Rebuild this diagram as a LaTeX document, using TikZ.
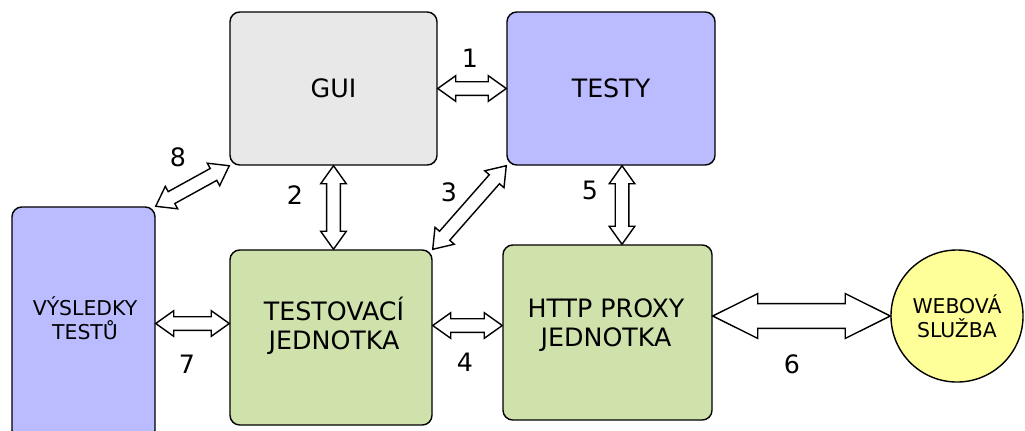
\documentclass[tikz,border=0pt]{standalone}
\usepackage{fontspec}
\setmainfont{DejaVu Sans}
\usetikzlibrary{calc}

\definecolor{guigray}{HTML}{E8E8E8}
\definecolor{testblue}{HTML}{BBBBFF}
\definecolor{unitgreen}{HTML}{CFE2AB}
\definecolor{webyellow}{HTML}{FFFF99}

\tikzset{
  box/.style={draw=black, line width=1pt, rounded corners=7pt, align=center},
  guibox/.style={box, fill=guigray, minimum width=5.175cm, minimum height=3.825cm},
  bluebox/.style={box, fill=testblue},
  greenbox/.style={box, fill=unitgreen, minimum height=4.375cm},
  bigtext/.style={font=\fontsize{18}{20.5}\selectfont, align=center},
  smalltext/.style={font=\fontsize{14.5}{17}\selectfont, align=center},
  numlabel/.style={font=\fontsize{18}{20}\selectfont},
  arrowline/.style={draw=black, fill=white, line width=1pt, line join=miter}
}

\newcommand{\blockarrow}[5]{%
  \draw[arrowline] (#1)
    -- ($(#1)!#3!(#2)!#4!90:(#2)$) -- ($(#1)!#3!(#2)!#5!90:(#2)$)
    -- ($(#2)!#3!(#1)!#5!-90:(#1)$) -- ($(#2)!#3!(#1)!#4!-90:(#1)$)
    -- (#2)
    -- ($(#2)!#3!(#1)!#4!90:(#1)$) -- ($(#2)!#3!(#1)!#5!90:(#1)$)
    -- ($(#1)!#3!(#2)!#5!-90:(#2)$) -- ($(#1)!#3!(#2)!#4!-90:(#2)$)
    -- cycle;}

\begin{document}
\begin{tikzpicture}[x=0.025cm, y=-0.025cm]

\useasboundingbox (0,0) rectangle (1025,430);

\node[guibox, bigtext] (gui) at (333.5, 88.5) {GUI};
\node[bluebox, bigtext, minimum width=5.2cm, minimum height=3.825cm] (testy) at (611, 88.5) {TESTY};
\node[bluebox, smalltext, minimum width=3.575cm, minimum height=5.825cm] (vys) at (83.5, 323.5) {};
\node[smalltext] (vystext) at (85, 318) {VÝSLEDKY\\TESTŮ};
\node[greenbox, minimum width=5.05cm] (tj) at (331, 337.5) {};
\node[bigtext] (tjtext) at (334, 325.5) {TESTOVACÍ\\JEDNOTKA};
\node[greenbox, minimum width=5.225cm] (proxy) at (607.5, 332.5) {};
\node[bigtext] (proxytext) at (606, 325.5) {HTTP PROXY\\JEDNOTKA};
\node[circle, draw=black, line width=1pt, fill=webyellow, minimum size=3.3cm, smalltext] (web) at (957, 316) {WEBOVÁ\\SLUŽBA};

\coordinate (a2) at (gui.south |- tj.north);
\coordinate (a4l) at (tjtext -| tj.east);
\coordinate (a4r) at (tjtext -| proxy.west);
\coordinate (a5t) at ($(testy.south)+(11,0)$);
\coordinate (a5b) at (a5t |- proxy.north);
\coordinate (a6) at (web.west -| proxy.east);
\coordinate (a7) at (vys.east -| tj.west);

\blockarrow{gui.east}{testy.west}{0.45cm}{0.32cm}{0.17cm}
\blockarrow{gui.south}{a2}{0.45cm}{0.32cm}{0.17cm}
\blockarrow{tj.north east}{testy.south west}{0.45cm}{0.32cm}{0.17cm}
\blockarrow{a4l}{a4r}{0.45cm}{0.32cm}{0.17cm}
\blockarrow{a5t}{a5b}{0.45cm}{0.32cm}{0.17cm}
\blockarrow{a6}{web.west}{1.125cm}{0.56cm}{0.31cm}
\blockarrow{vys.east}{a7}{0.45cm}{0.32cm}{0.17cm}
\blockarrow{vys.north east}{gui.south west}{0.45cm}{0.32cm}{0.17cm}

\node[numlabel] (n1) at (470, 58) {1};
\node[numlabel] (n2) at (295, 195) {2};
\node[numlabel] (n3) at (449, 192) {3};
\node[numlabel] (n4) at (465, 362) {4};
\node[numlabel] (n5) at (590, 190) {5};
\node[numlabel] (n6) at (792, 364) {6};
\node[numlabel] (n7) at (187, 364) {7};
\node[numlabel] (n8) at (178, 157) {8};

\end{tikzpicture}
\end{document}
